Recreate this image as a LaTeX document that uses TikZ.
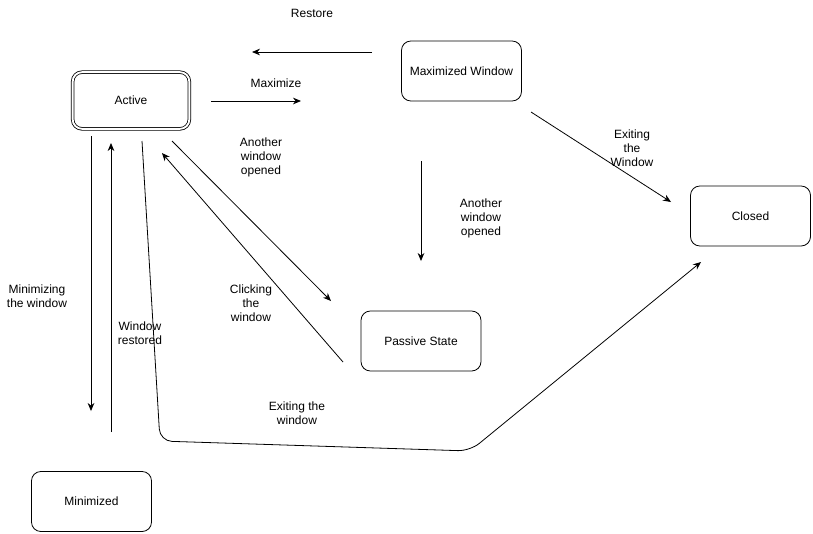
\documentclass[tikz,border=0pt]{standalone}
\usepackage{fontspec}
\setmainfont{Liberation Sans}
\usetikzlibrary{arrows.meta}
\pgfdeclarelayer{edgelayer}
\pgfdeclarelayer{nodelayer}
\pgfsetlayers{edgelayer,nodelayer,main}
\tikzstyle{state}=[rectangle,rounded corners=7pt,fill=white,draw=black,line width=0.6pt,minimum width=90pt,minimum height=45pt,font=\fontsize{9}{11}\selectfont]
\tikzstyle{active state}=[state,double,double distance=1.4pt,minimum width=87.5pt,minimum height=42.5pt]
\tikzstyle{transition}=[-{Stealth[length=6pt,width=5pt]},draw=black,line width=0.6pt]
\tikzstyle{edgetext}=[align=center,font=\fontsize{9}{10.5}\selectfont]

\begin{document}
\begin{tikzpicture}[x=0.75pt,y=-0.75pt]
	\useasboundingbox (0,0) rectangle (813,533);
	\begin{pgfonlayer}{nodelayer}
		\node [style=active state] (0) at (131, 100.5) {Active};
		\node [style=state] (1) at (461.5, 71) {Maximized Window};
		\node [style=state] (2) at (750.5, 216) {Closed};
		\node [style=state] (3) at (421, 341) {Passive State};
		\node [style=state] (4) at (91.5, 501.5) {Minimized};
		% free ends of the connectors
		\coordinate (r0) at (372, 52);
		\coordinate (r1) at (252, 52);
		\coordinate (m0) at (211, 101);
		\coordinate (m1) at (301, 101);
		\coordinate (p0) at (172, 141);
		\coordinate (p1) at (331, 301);
		\coordinate (c0) at (343, 362);
		\coordinate (c1) at (162, 153);
		\coordinate (q0) at (421, 161);
		\coordinate (q1) at (421, 261);
		\coordinate (x0) at (531, 112);
		\coordinate (x1) at (671, 202);
		\coordinate (n0) at (91, 136);
		\coordinate (n1) at (91, 411);
		\coordinate (w0) at (111, 432);
		\coordinate (w1) at (111, 143);
		\coordinate (e0) at (142, 141);
		\coordinate (e1) at (160, 441);
		\coordinate (e2) at (470, 451);
		\coordinate (e3) at (701, 262);
	\end{pgfonlayer}
	\begin{pgfonlayer}{edgelayer}
		\draw [style=transition] (r0) to (r1);
		\draw [style=transition] (m0) to (m1);
		\draw [style=transition] (p0) to (p1);
		\draw [style=transition] (c0) to (c1);
		\draw [style=transition] (q0) to (q1);
		\draw [style=transition] (x0) to (x1);
		\draw [style=transition] (n0) to (n1);
		\draw [style=transition] (w0) to (w1);
		\draw [style=transition, rounded corners=9pt] (e0) -- (e1) -- (e2) -- (e3);
	\end{pgfonlayer}
	\node [style=edgetext] (t0) at (312, 13) {Restore};
	\node [style=edgetext] (t1) at (276, 83) {Maximize};
	\node [style=edgetext] (t2) at (261, 157) {Another\\window\\opened};
	\node [style=edgetext] (t3) at (251, 303) {Clicking\\the\\window};
	\node [style=edgetext] (t4) at (481, 218) {Another\\window\\opened};
	\node [style=edgetext] (t5) at (632, 148) {Exiting\\the\\Window};
	\node [style=edgetext] (t6) at (37, 296) {Minimizing\\the window};
	\node [style=edgetext] (t7) at (140, 333) {Window\\restored};
	\node [style=edgetext] (t8) at (297, 413) {Exiting the\\window};
\end{tikzpicture}
\end{document}
